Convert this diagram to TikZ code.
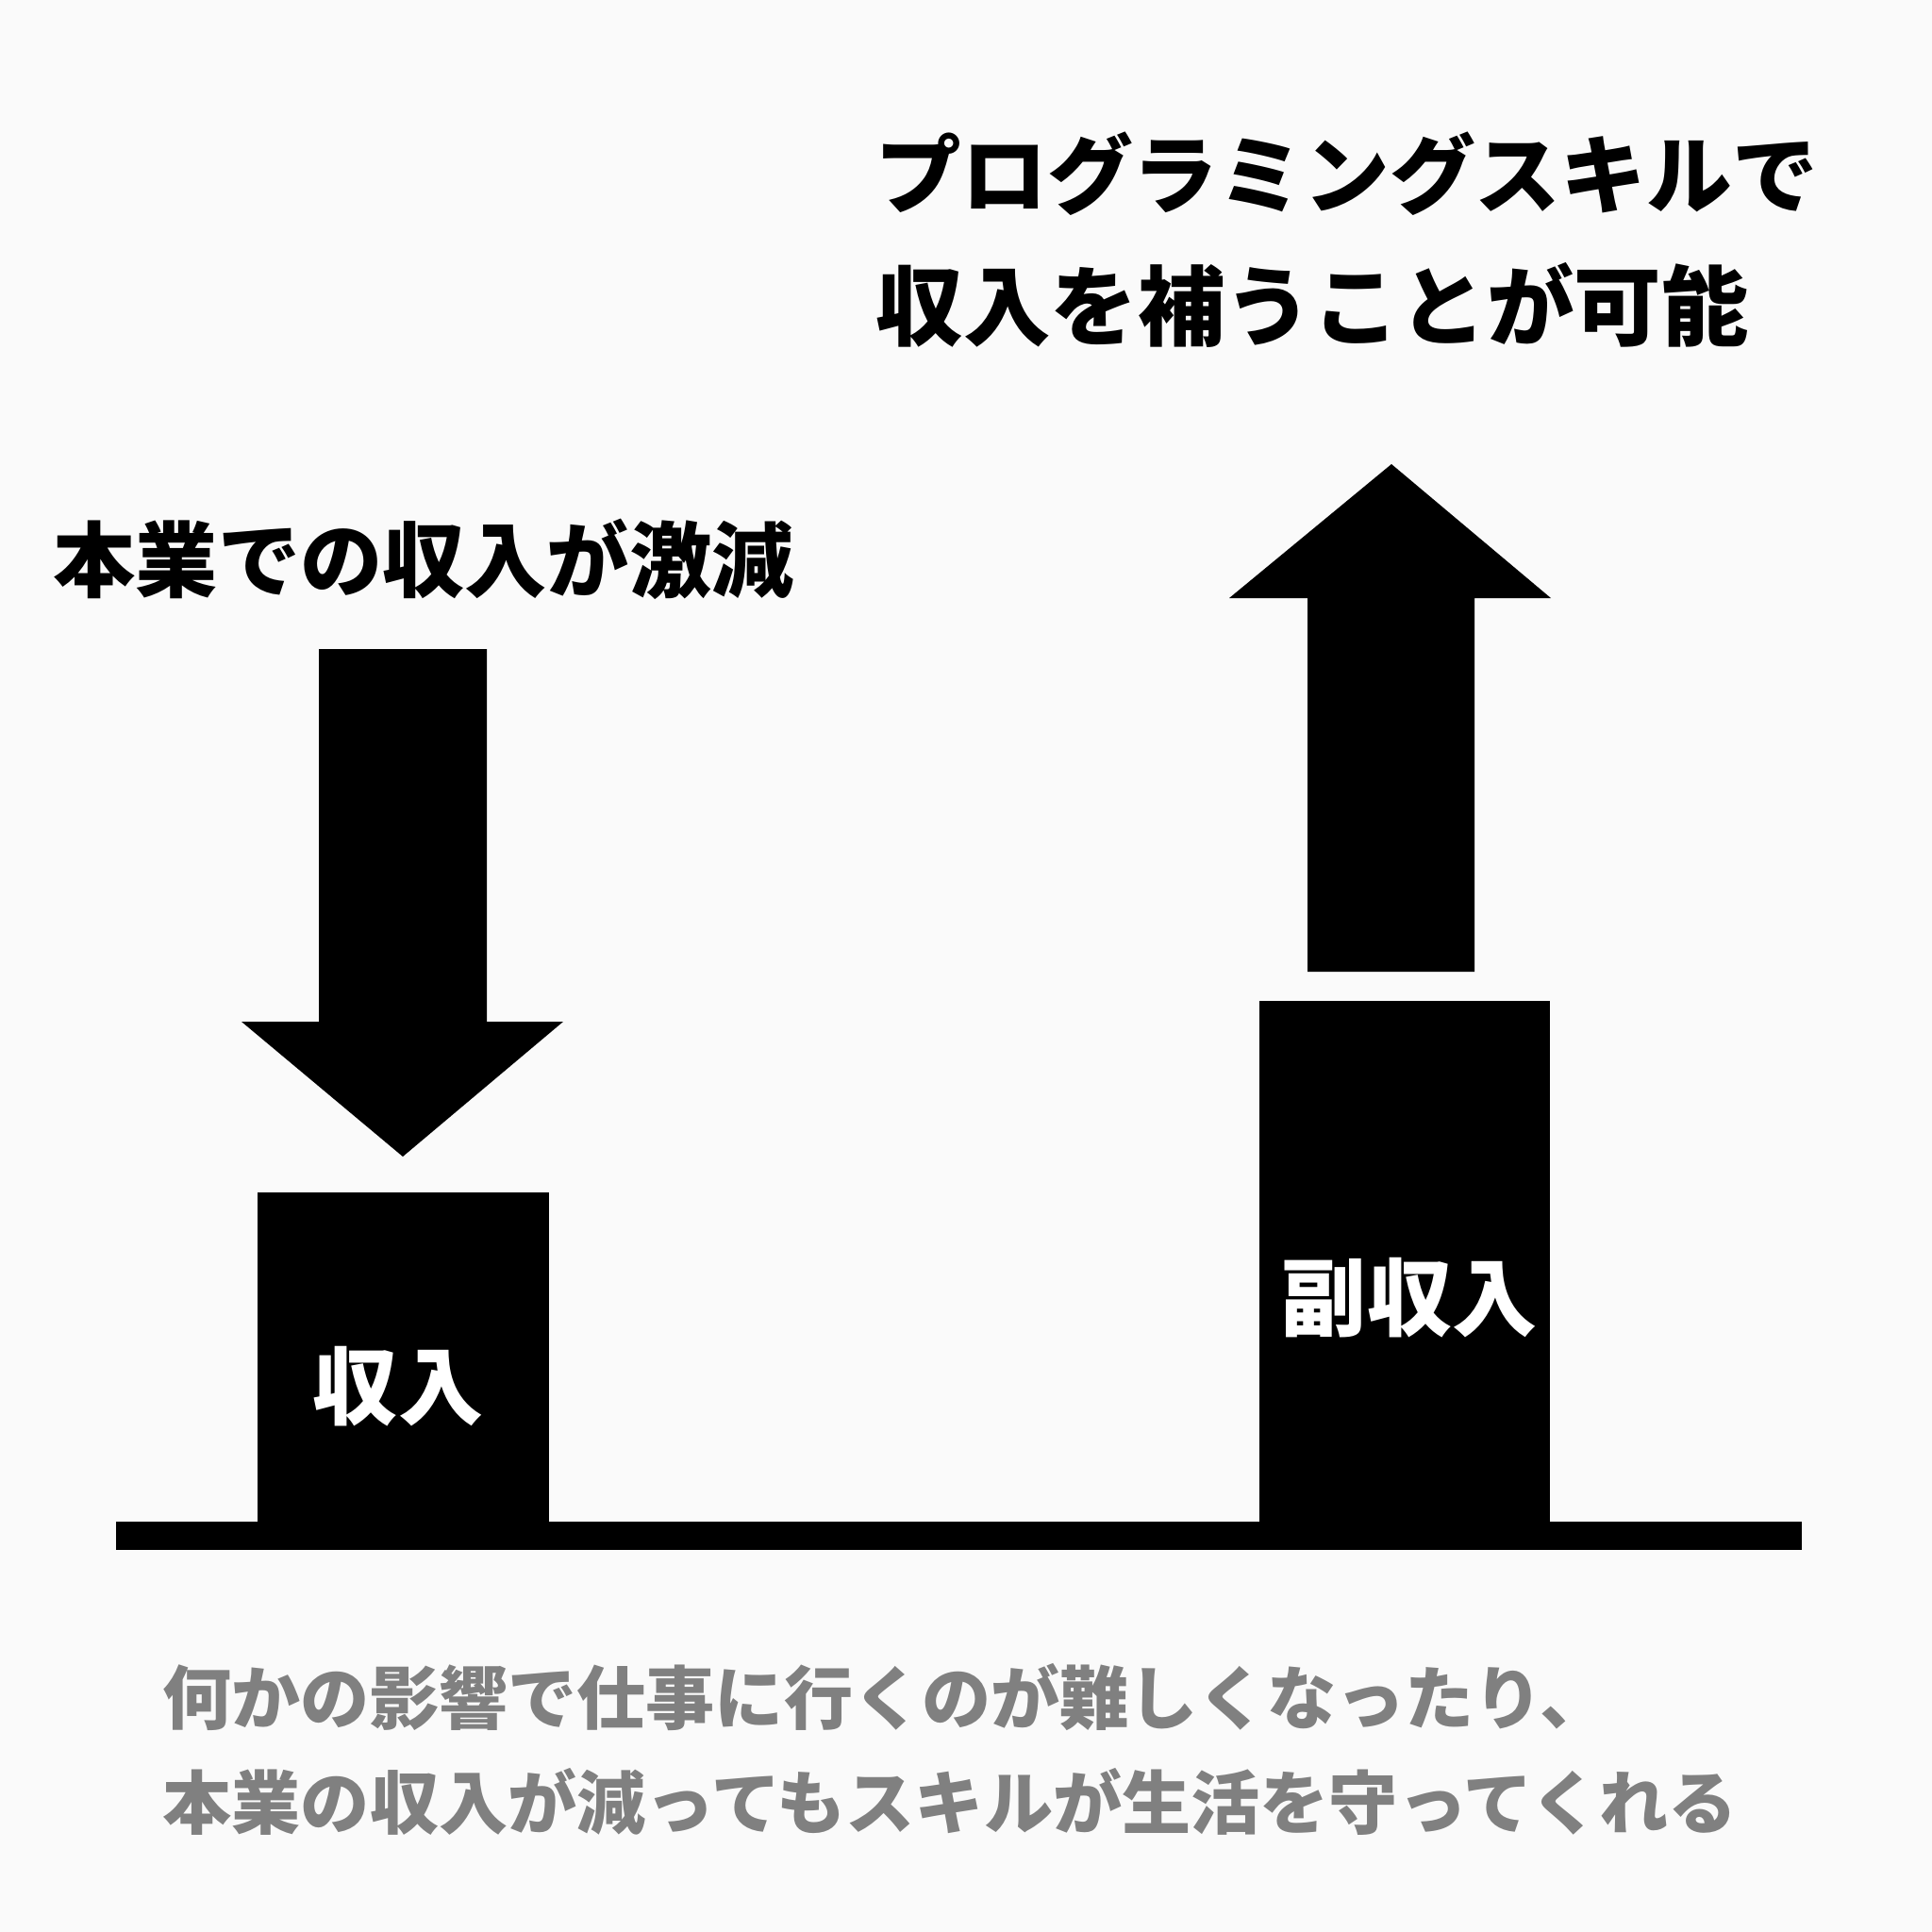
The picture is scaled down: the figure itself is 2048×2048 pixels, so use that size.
\documentclass[tikz,border=0pt]{standalone}
\usepackage{fontspec}
\newfontfamily\jpfont{Noto Sans CJK JP}
\definecolor{paper}{HTML}{FAFAFA}
\definecolor{notegray}{HTML}{808080}
\tikzset{
	heading/.style={anchor=west, inner sep=0pt, font=\jpfont\bfseries\fontsize{25.8}{30}\selectfont},
	barlabel/.style={text=white, inner sep=0pt, font=\jpfont\bfseries\fontsize{25.6}{30}\selectfont},
	note/.style={anchor=west, inner sep=0pt, text=notegray, font=\jpfont\bfseries\fontsize{20.8}{25}\selectfont}
}

\begin{document}
\begin{tikzpicture}[x=0.01cm, y=-0.01cm]
		%%%%% START %%%%%
		
		\fill[paper] (0, 0) rectangle (2048, 2048);
		\useasboundingbox (0, 0) rectangle (2048, 2048);
		
		\fill[black] (123, 1613) rectangle (1910, 1643);
		
		\fill[black] (273, 1264) rectangle (582, 1613);
		\fill[black] (1335, 1061) rectangle (1643, 1613);
		
		\fill[black] (338, 688) -- (516, 688) -- (516, 1083) -- (597, 1083) -- (427, 1226) -- (256, 1083) -- (338, 1083) -- cycle;
		\fill[black] (1386, 1030) -- (1563, 1030) -- (1563, 634) -- (1644, 634) -- (1475, 492) -- (1303, 634) -- (1386, 634) -- cycle;
		
		\node[heading, font=\jpfont\bfseries\fontsize{24.8}{29}\selectfont] (loss) at (56, 593) {本業での収入が激減};
		\node[heading] (gainA) at (928, 184) {プログラミングスキルで};
		\node[heading, font=\jpfont\bfseries\fontsize{26.3}{30}\selectfont] (gainB) at (928, 323) {収入を補うことが可能};
		
		\node[barlabel] (income) at (422, 1470) {収入};
		\node[barlabel] (side) at (1494, 1376) {副収入};
		
		\node[note] (noteA) at (172, 1799) {何かの影響で仕事に行くのが難しくなったり、};
		\node[note] (noteB) at (172, 1910) {本業の収入が減ってもスキルが生活を守ってくれる};
		
		%%%%% END %%%%%
	\end{tikzpicture}
\end{document}
